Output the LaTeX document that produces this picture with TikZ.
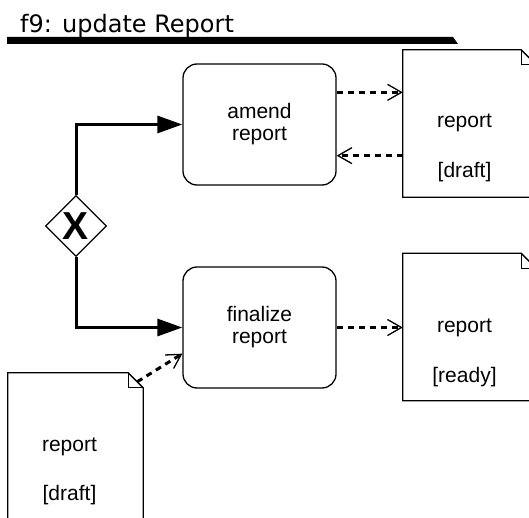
\documentclass[tikz,border=0pt]{standalone}
\usepackage{fontspec}
\setmainfont{Liberation Sans}
\newfontfamily\titlefont{DejaVu Sans}
\usetikzlibrary{arrows.meta,shapes.geometric,calc}

% outline of a data object: a sheet with a folded top-right corner
\newcommand\docoutline[1]{%
  \draw[line width=1.3pt] (#1.north west) -- ($(#1.north east)+(-15,0)$)
    -- ($(#1.north east)+(0,15)$) -- (#1.south east) -- (#1.south west) -- cycle;
  \draw[line width=1.3pt] ($(#1.north east)+(-15,0)$) |- ($(#1.north east)+(0,15)$);}

\begin{document}
\begin{tikzpicture}[x=1pt,y=-1pt,
  task/.style={draw,line width=1.3pt,rounded corners=14pt,minimum width=153pt,
    minimum height=121pt,align=center,font=\fontsize{21}{22}\selectfont,inner sep=0pt},
  docframe/.style={minimum width=133pt,minimum height=147pt,inner sep=0pt},
  doctext/.style={font=\fontsize{21}{24}\selectfont,inner sep=0pt},
  gateway/.style={draw,diamond,line width=1.3pt,minimum width=61pt,
    minimum height=61pt,inner sep=0pt,fill=white},
  flow/.style={line width=3pt,-{Triangle[length=25pt,width=17pt]}},
  assoc/.style={line width=3pt,dash pattern=on 6pt off 5pt,
    -{Straight Barb[length=14pt,width=16pt,line width=1.3pt]}},
]
\useasboundingbox (0,0) rectangle (529,518);
\clip (0,0) rectangle (529,518);

% heading with its underline bar
\node[anchor=base west,font=\titlefont\fontsize{24}{28}\selectfont,inner sep=0pt]
  (title) at (20,33) {f9: update Report};
\fill (7,37) -- (453,37) -- (458,44) -- (7,44) -- cycle;

% tasks
\node[task] (amend) at (259.5,124.5) {amend\\report};
\node[task] (fin) at (259.5,327.5) {finalize\\report};

% exclusive gateway
\node[gateway] (gw) at (76,226) {};
\node[font=\bfseries\fontsize{39}{39}\selectfont,inner sep=0pt] (gwx) at (gw.center) {X};

% data objects
\node[docframe] (d1) at (469.5,123.5) {};
\docoutline{d1}
\node[doctext] (d1a) at ($(d1.north)+(-5,73)$) {report};
\node[doctext] (d1b) at ($(d1.north)+(-5,122)$) {[draft]};

\node[docframe] (d2) at (469.5,327) {};
\docoutline{d2}
\node[doctext] (d2a) at ($(d2.north)+(-5,75)$) {report};
\node[doctext] (d2b) at ($(d2.north)+(-5,124)$) {[ready]};

\node[docframe,minimum width=135pt] (d3) at (75.5,446.5) {};
\docoutline{d3}
\node[doctext] (d3a) at ($(d3.north)+(-6,74)$) {report};
\node[doctext] (d3b) at ($(d3.north)+(-6,122)$) {[draft]};

% sequence flows
\draw[flow] (gw.north) |- (amend.west);
\draw[flow] (gw.south) |- (fin.west);

% data associations
\draw[assoc] ([yshift=-29pt]amend.north east) -- ([yshift=-29pt]amend.north east -| d1.west);
\draw[assoc] ([yshift=30pt]amend.south east -| d1.west) -- ([yshift=30pt]amend.south east);
\draw[assoc] (fin.east) -- (fin.east -| d2.west);
\draw[assoc] ($(d3.north east)+(-6,9)$) -- ([yshift=35pt]fin.south west);
\end{tikzpicture}
\end{document}
